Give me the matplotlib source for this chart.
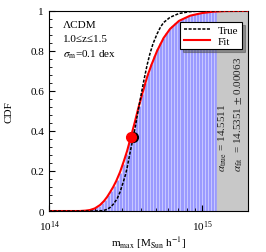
import numpy as np
import matplotlib
matplotlib.use('Agg')
import matplotlib.pyplot as plt
from matplotlib.ticker import MultipleLocator, LogLocator, NullFormatter

plt.rcParams['font.family'] = ['Liberation Serif', 'DejaVu Serif']
plt.rcParams['mathtext.fontset'] = 'stix'

# log10 of mass, CDF values
fit_logm = [14.00, 14.20, 14.24, 14.268, 14.30, 14.334, 14.36, 14.38, 14.399, 14.42,
            14.44, 14.465, 14.49, 14.511, 14.535, 14.56, 14.583, 14.61, 14.642, 14.67,
            14.707, 14.75, 14.792, 14.85, 14.923, 15.00, 15.074, 15.15, 15.301]
fit_cdf = [0.0, 0.0, 0.002, 0.005, 0.013, 0.03, 0.05, 0.07, 0.093, 0.12,
           0.15, 0.195, 0.25, 0.30, 0.368, 0.44, 0.51, 0.585, 0.67, 0.73,
           0.80, 0.865, 0.91, 0.95, 0.976, 0.989, 0.996, 0.999, 1.0]

true_logm = [14.00, 14.30, 14.354, 14.38, 14.40, 14.42, 14.445, 14.465, 14.48, 14.50,
             14.511, 14.53, 14.551, 14.567, 14.583, 14.60, 14.62, 14.642, 14.66, 14.68,
             14.707, 14.73, 14.75, 14.792, 14.85, 14.92, 15.0, 15.301]
true_cdf = [0.0, 0.0, 0.002, 0.008, 0.018, 0.033, 0.06, 0.095, 0.13, 0.18,
            0.215, 0.29, 0.368, 0.43, 0.50, 0.57, 0.65, 0.73, 0.785, 0.835,
            0.885, 0.92, 0.942, 0.968, 0.987, 0.996, 1.0, 1.0]

# empirical cumulative histogram (bar centres in log10 m)
bar_logm = np.round(np.arange(14.21, 15.10, 0.02), 3)
bar_cdf = [0.0, 0.001, 0.003, 0.005, 0.01, 0.018, 0.027, 0.04, 0.055, 0.08,
           0.10, 0.125, 0.155, 0.19, 0.235, 0.285, 0.345, 0.40, 0.465, 0.525,
           0.585, 0.64, 0.69, 0.735, 0.775, 0.81, 0.84, 0.865, 0.89, 0.91,
           0.925, 0.94, 0.95, 0.96, 0.967, 0.973, 0.978, 0.983, 0.987, 0.99,
           0.993, 0.995, 0.997, 0.998, 0.999]

alpha_true = 14.5511
alpha_fit = 14.5351
alpha_err = 0.00063
gray_start = 15.10

fig = plt.figure(figsize=(2.66, 2.53), dpi=100)
ax = fig.add_axes([0.184, 0.162, 0.748, 0.791])

# bars
left = 10 ** (bar_logm - 0.01)
right = 10 ** (bar_logm + 0.01)
ax.bar(left, bar_cdf, width=right - left, align='edge', color='#9a9aff',
       edgecolor='#d0d0ff', linewidth=0.5, zorder=1)

ax.axvspan(10 ** gray_start, 2e15, ymin=0, ymax=1, color='#c8c8c8', zorder=1)

ax.plot(10 ** np.array(fit_logm), fit_cdf, color='red', lw=1.5, label='Fit', zorder=3)
ax.plot(10 ** np.array(true_logm), true_cdf, color='black', lw=1.1,
        ls=(0, (2, 1)), label='True', zorder=4)

ax.plot(10 ** alpha_true, np.exp(-1), 'o', color='black', ms=7, zorder=5)
ax.plot(10 ** alpha_fit, np.exp(-1), 'o', color='red', ms=7, zorder=6)

ax.set_xscale('log')
ax.set_xlim(1e14, 2e15)
ax.set_ylim(0, 1)
ax.yaxis.set_minor_locator(MultipleLocator(0.04))
ax.set_yticks([0, 0.2, 0.4, 0.6, 0.8, 1])
ax.set_yticklabels(['0', '0.2', '0.4', '0.6', '0.8', '1'])
ax.xaxis.set_minor_locator(LogLocator(base=10, subs=np.arange(2, 10)))
ax.xaxis.set_minor_formatter(NullFormatter())
ax.tick_params(which='both', direction='in', labelsize=8, top=False, right=False)
ax.tick_params(which='major', length=4)
ax.tick_params(which='minor', length=2)
ax.tick_params(axis='x', pad=5)

ax.set_xlabel(r'm$_{\rm max}$ [M$_{\rm Sun}$ h$^{-1}$]', fontsize=8, labelpad=1)
ax.set_ylabel('CDF', fontsize=8, labelpad=12)

ax.text(0.07, 0.955, 'ΛCDM', transform=ax.transAxes, fontsize=8, va='top')
ax.text(0.07, 0.885, '1.0≤z≤1.5', transform=ax.transAxes, fontsize=8, va='top')
ax.text(0.07, 0.815, r'$\sigma_{\rm m}$=0.1 dex', transform=ax.transAxes, fontsize=8, va='top')

ax.text(10 ** 15.135, 0.2, r'$\alpha_{\rm true}$ = %.4f' % alpha_true, rotation=90,
        fontsize=8, ha='center', va='bottom', color='#222222', zorder=7)
ax.text(10 ** 15.24, 0.2, r'$\alpha_{\rm fit}$  = %.4f $\pm$ %.5f' % (alpha_fit, alpha_err),
        rotation=90, fontsize=8, ha='center', va='bottom', color='#222222', zorder=7)

handles, labels = ax.get_legend_handles_labels()
leg = ax.legend(handles[::-1], labels[::-1], loc='upper right', bbox_to_anchor=(0.97, 0.945),
                borderaxespad=0, fontsize=8, fancybox=False, shadow=True, framealpha=1,
                edgecolor='black', handlelength=2.4, handletextpad=0.7,
                labelspacing=0.1, borderpad=0.3)
leg._legend_box.align = 'left'
leg.get_frame().set_linewidth(0.8)
leg.set_zorder(8)

fig.savefig('out.png', dpi=100)
